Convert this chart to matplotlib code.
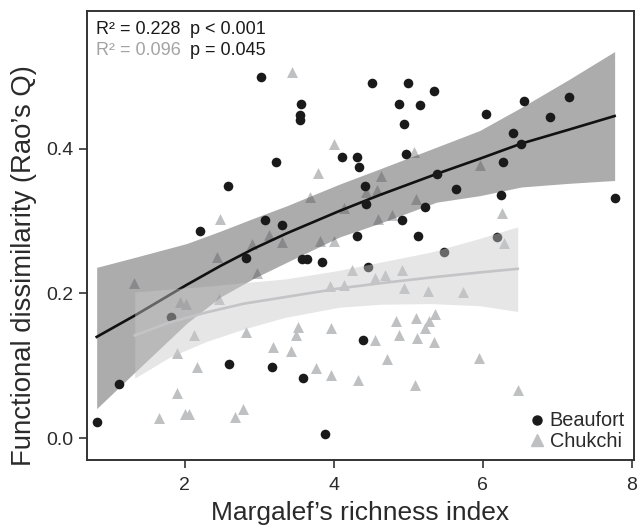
import matplotlib
matplotlib.use("Agg")
import matplotlib.pyplot as plt
from matplotlib.lines import Line2D

plt.rcParams['font.family'] = ['Liberation Sans', 'DejaVu Sans']

# Beaufort stations (richness, Rao's Q)
beaufort_x = [3.02, 3.56, 3.55, 3.55, 3.22, 2.58, 4.11, 4.31, 4.34, 2.21,
              3.08, 3.31, 2.82, 3.57, 3.64, 3.84, 4.31, 4.51, 5.00, 5.34,
              4.87, 5.16, 4.95, 6.05, 6.55, 7.16, 6.90, 6.41, 6.52, 6.27,
              6.25, 7.77, 4.97, 4.42, 4.43, 5.39, 5.64, 5.22, 4.92, 5.13,
              6.19, 5.48, 4.46, 4.39, 1.82, 1.12, 0.82, 2.59, 3.17, 3.59,
              3.88]
beaufort_y = [0.499, 0.461, 0.446, 0.439, 0.382, 0.348, 0.388, 0.388, 0.375, 0.286,
              0.302, 0.294, 0.249, 0.248, 0.248, 0.243, 0.279, 0.491, 0.491, 0.479,
              0.462, 0.460, 0.434, 0.448, 0.466, 0.471, 0.443, 0.421, 0.407, 0.381,
              0.336, 0.332, 0.392, 0.348, 0.324, 0.365, 0.344, 0.319, 0.302, 0.279,
              0.278, 0.257, 0.237, 0.136, 0.167, 0.075, 0.023, 0.103, 0.098, 0.083,
              0.006]

# Chukchi stations
chukchi_x = [3.44, 4.00, 3.79, 3.68, 2.48, 3.13, 2.91, 3.31, 3.81, 4.01,
             2.43, 4.14, 5.08, 4.64, 4.44, 4.58, 5.10, 5.97, 4.60, 4.78,
             6.26, 6.29, 4.24, 4.56, 4.69, 4.92, 4.14, 4.95, 5.27, 5.74,
             4.83, 5.10, 5.36, 5.28, 5.22, 4.87, 5.12, 5.35, 4.55, 4.71,
             5.95, 4.33, 5.09, 6.48, 1.32, 2.97, 1.94, 2.02, 2.46, 2.13,
             2.82, 1.90, 2.17, 1.90, 1.65, 2.01, 2.06, 2.68, 2.79, 3.19,
             3.43, 3.52, 3.50, 3.96, 3.76, 3.97, 3.95]
chukchi_y = [0.506, 0.406, 0.366, 0.333, 0.303, 0.280, 0.268, 0.271, 0.273, 0.273,
             0.250, 0.318, 0.395, 0.362, 0.340, 0.343, 0.330, 0.377, 0.303, 0.308,
             0.311, 0.270, 0.232, 0.222, 0.225, 0.233, 0.211, 0.207, 0.204, 0.202,
             0.162, 0.166, 0.171, 0.162, 0.152, 0.142, 0.138, 0.133, 0.136, 0.109,
             0.111, 0.081, 0.073, 0.067, 0.214, 0.228, 0.188, 0.186, 0.193, 0.143,
             0.147, 0.118, 0.099, 0.063, 0.028, 0.033, 0.033, 0.030, 0.040, 0.126,
             0.121, 0.153, 0.143, 0.152, 0.097, 0.087, 0.210]

# fitted curves with confidence bands
beau_fit_x = [0.82, 1.34, 2.03, 2.48, 2.93, 3.37, 4.08, 4.62, 5.38, 5.96, 6.52, 7.15, 7.77]
beau_fit = [0.140, 0.170, 0.212, 0.238, 0.262, 0.283, 0.314, 0.336, 0.365, 0.386, 0.407, 0.426, 0.445]
beau_lo = [0.041, 0.092, 0.159, 0.195, 0.221, 0.243, 0.278, 0.297, 0.326, 0.335, 0.347, 0.352, 0.356]
beau_hi = [0.236, 0.250, 0.269, 0.286, 0.304, 0.321, 0.351, 0.372, 0.402, 0.425, 0.457, 0.495, 0.534]

chuk_fit_x = [1.33, 1.80, 2.30, 2.80, 3.35, 4.08, 4.62, 5.30, 5.96, 6.47]
chuk_fit = [0.142, 0.160, 0.174, 0.186, 0.195, 0.207, 0.214, 0.222, 0.229, 0.234]
chuk_lo = [0.083, 0.112, 0.134, 0.151, 0.167, 0.181, 0.185, 0.186, 0.183, 0.175]
chuk_hi = [0.202, 0.206, 0.210, 0.215, 0.220, 0.232, 0.243, 0.257, 0.276, 0.292]

fig = plt.figure(figsize=(6.38, 5.27), dpi=100)
ax = fig.add_axes([87/638, 67/527, 547/638, 449/527])

ax.scatter(chukchi_x, chukchi_y, marker='^', s=62, color='#bfc0c2', linewidths=0, zorder=2)
ax.fill_between(beau_fit_x, beau_lo, beau_hi, color='#4a4a4c', alpha=0.46, lw=0, zorder=3)
ax.plot(beau_fit_x, beau_fit, color='#111111', lw=1.9, zorder=4)
ax.scatter(beaufort_x, beaufort_y, marker='o', s=48, color='#1a1a1a', linewidths=0, zorder=5)
ax.fill_between(chuk_fit_x, chuk_lo, chuk_hi, color='#c9c9cb', alpha=0.45, lw=0, zorder=6)
ax.plot(chuk_fit_x, chuk_fit, color='#c4c4c6', lw=1.9, zorder=7)

ax.set_xlim(0.69, 8.03)
ax.set_ylim(-0.03, 0.59)
ax.set_xticks([2, 4, 6, 8])
ax.set_yticks([0.0, 0.2, 0.4])
ax.set_yticklabels(['0.0', '0.2', '0.4'])

for sp in ax.spines.values():
    sp.set_color('#333333')
    sp.set_linewidth(1.4)
ax.tick_params(axis='both', direction='out', color='#333333', width=1.2,
               length=6, labelsize=14, labelcolor='#2a2a2a')
ax.tick_params(axis='x', pad=6)
ax.tick_params(axis='y', pad=3.5)

ax.set_xlabel('Margalef\u2019s richness index', fontsize=19, color='#2a2a2a', labelpad=5)
ax.set_ylabel('Functional dissimilarity (Rao\u2019s Q)', fontsize=19.8, color='#2a2a2a')
ax.yaxis.set_label_coords(-0.092, 0.434)

ax.text(0.016, 0.948, 'R\u00b2 = 0.228', transform=ax.transAxes, fontsize=13,
        color='#1a1a1a', va='baseline')
ax.text(0.188, 0.948, 'p < 0.001', transform=ax.transAxes, fontsize=13,
        color='#1a1a1a', va='baseline')
ax.text(0.016, 0.902, 'R\u00b2 = 0.096', transform=ax.transAxes, fontsize=13,
        color='#a3a3a3', va='baseline')
ax.text(0.188, 0.902, 'p = 0.045', transform=ax.transAxes, fontsize=13,
        color='#1a1a1a', va='baseline')

handles = [Line2D([], [], ls='none', marker='o', ms=6.5, color='#1a1a1a'),
           Line2D([], [], ls='none', marker='^', ms=8, color='#bfc0c2')]
ax.legend(handles, ['Beaufort', 'Chukchi'], loc='lower right', frameon=False,
          fontsize=14.3, handlelength=0.8, handletextpad=0.25, labelspacing=0.08,
          borderaxespad=0.05, labelcolor='#2a2a2a')

fig.savefig('out.png', dpi=100)
